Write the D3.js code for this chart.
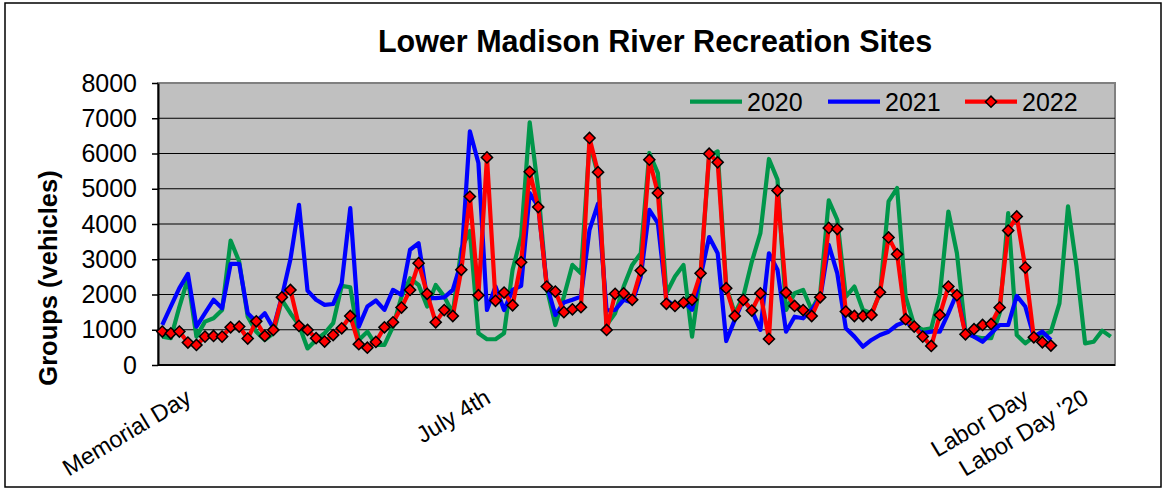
<!DOCTYPE html>
<html><head><meta charset="utf-8">
<script src="https://cdn.jsdelivr.net/npm/d3@7"></script>
<style>
body{margin:0;background:#fff}
text{font-family:"Liberation Sans", Arial, sans-serif;fill:#000}
</style>
</head><body>
<svg id="c" width="1168" height="490"></svg>
<script>
// ---- data ----
const title = "Lower Madison River Recreation Sites";
const yTitle = "Groups (vehicles)";
const nDays = 112;
const labelDays = [3, 38, 101, 108];
const labelTexts = ["Memorial Day", "July 4th", "Labor Day", "Labor Day '20"];
const yTicks = [0, 1000, 2000, 3000, 4000, 5000, 6000, 7000, 8000];
const seriesNames = ["2020", "2021", "2022"];
const seriesColors = ["#00964A", "#0000FF", "#FF0000"];

const v2020 = [805,760,1650,2450,805,1230,1325,1560,3530,2935,1370,945,710,900,1850,1470,1135,470,710,900,
1185,2245,2205,710,945,570,570,1090,1940,2460,2270,1660,2270,1940,1470,3300,3800,900,730,730,
900,2700,3645,6885,4970,2180,1135,1940,2840,2600,6300,5400,1135,1470,2225,2840,3170,6015,5445,2035,
2510,2840,805,2600,5920,6060,2225,1470,1940,2935,3740,5845,5260,1560,2035,2130,1560,2035,4670,4120,
1940,2225,1560,1470,2035,4640,5020,1940,1135,1000,1040,1990,4355,3170,945,805,760,760,1470,4310,
850,615,805,850,945,1750,4500,2790,615,660,975,805];

const v2021 = [1140,1660,2180,2585,1090,1470,1850,1610,2870,2870,1470,1230,1470,1040,1940,3000,4545,2110,1850,1705,
1730,2320,4450,1090,1660,1830,1565,2130,1990,3270,3455,1895,1895,1920,2130,2935,6630,5730,1560,2225,
1560,2130,2245,4875,4500,2270,1420,1770,1850,1940,3835,4575,1550,1560,1850,1770,2510,4400,4025,1850,
1660,1800,1565,2510,3630,3170,680,1280,1850,1545,995,3170,2700,945,1370,1325,1565,1895,3410,2600,
1040,805,520,710,850,945,1135,1230,1040,900,945,945,1470,2035,900,805,660,900,1135,1135,
1960,1660,805,945,710];

const v2022 = [950,900,950,635,570,805,825,805,1070,1090,750,1240,825,995,1920,2130,1110,995,760,665,
850,1040,1390,590,490,655,1070,1210,1630,2130,2890,2020,1210,1560,1390,2700,4780,1980,5890,1820,
2055,1695,2915,5480,4480,2225,2085,1500,1580,1640,6440,5470,995,2020,2035,1850,2680,5825,4880,1735,
1675,1770,1850,2600,5995,5750,2180,1390,1850,1545,2035,740,4950,2055,1675,1560,1390,1920,3890,3855,
1515,1390,1390,1420,2065,3620,3145,1300,1090,805,540,1420,2225,1980,870,1015,1135,1165,1630,3815,
4215,2765,785,645,550];

const seriesValues = [v2020, v2021, v2022];

// ---- chart ----
const svg = d3.select("#c");
const plot = {left: 158, right: 1115, top: 83, bottom: 365};

// outer border
svg.append("rect").attr("x", 5).attr("y", 3).attr("width", 1156).attr("height", 484)
  .attr("fill", "#fff").attr("stroke", "#000").attr("stroke-width", 1.5);

const x = d3.scaleBand().domain(d3.range(nDays)).range([plot.left, plot.right]);
const xc = i => x(i) + x.bandwidth() / 2;
const y = d3.scaleLinear().domain([0, 8000]).range([plot.bottom, plot.top]);

// plot area
svg.append("rect").attr("x", plot.left).attr("y", plot.top)
  .attr("width", plot.right - plot.left).attr("height", plot.bottom - plot.top)
  .attr("fill", "#C0C0C0").attr("stroke", "#808080").attr("stroke-width", 2);

// gridlines
svg.append("g").selectAll("line").data(yTicks.filter(t => t > 0 && t < 8000)).join("line")
  .attr("x1", plot.left).attr("x2", plot.right)
  .attr("y1", d => y(d)).attr("y2", d => y(d))
  .attr("stroke", "#000").attr("stroke-width", 1.2);

// y axis
const yAxis = svg.append("g").attr("transform", `translate(${plot.left},0)`)
  .call(d3.axisLeft(y).tickValues(yTicks).tickSize(6).tickSizeOuter(0).tickPadding(15).tickFormat(d3.format("d")));
yAxis.select(".domain").attr("stroke", "#000").attr("stroke-width", 2);
yAxis.selectAll(".tick line").attr("stroke", "#000").attr("stroke-width", 1.5);
yAxis.selectAll(".tick text").attr("font-size", 25).attr("font-family", '"Liberation Sans", Arial, sans-serif').attr("fill", "#000");

// x axis line
svg.append("line").attr("x1", plot.left).attr("x2", plot.right)
  .attr("y1", plot.bottom).attr("y2", plot.bottom).attr("stroke", "#000").attr("stroke-width", 2);

// x labels
svg.append("g").selectAll("text").data(labelDays).join("text")
  .attr("transform", (d) => `translate(${xc(d) + 5},${402}) rotate(-31)`)
  .attr("text-anchor", "end").attr("font-size", 23.5)
  .text((d, i) => labelTexts[i]);

// series lines
const line = d3.line().x((d, i) => xc(i)).y(d => y(d));
seriesValues.forEach((vals, s) => {
  svg.append("path").datum(vals).attr("d", line)
    .attr("fill", "none").attr("stroke", seriesColors[s]).attr("stroke-width", 4.2)
    .attr("stroke-linejoin", "round");
});
// 2022 markers
const diamond = d3.symbol().type(d3.symbolSquare).size(62);
svg.append("g").selectAll("path").data(v2022).join("path")
  .attr("d", diamond)
  .attr("transform", (d, i) => `translate(${xc(i)},${y(d)}) rotate(45)`)
  .attr("fill", "#FF0000").attr("stroke", "#000").attr("stroke-width", 1.5);

// title
svg.append("text").attr("x", 655).attr("y", 52).attr("text-anchor", "middle")
  .attr("font-size", 30.5).attr("font-weight", "bold").text(title);

// y title
svg.append("text").attr("transform", `translate(57,278) rotate(-90)`)
  .attr("text-anchor", "middle").attr("font-size", 25.5).attr("font-weight", "bold").text(yTitle);

// legend
const legX = [690, 828, 965];
const legY = 101.7;
seriesNames.forEach((n, s) => {
  const g = svg.append("g");
  g.append("line").attr("x1", legX[s]).attr("x2", legX[s] + 52).attr("y1", legY).attr("y2", legY)
    .attr("stroke", seriesColors[s]).attr("stroke-width", 4.2);
  if (s === 2) {
    g.append("path").attr("d", diamond)
      .attr("transform", `translate(${legX[s] + 26},${legY}) rotate(45)`)
      .attr("fill", "#FF0000").attr("stroke", "#000").attr("stroke-width", 1.5);
  }
  g.append("text").attr("x", legX[s] + 57).attr("y", legY + 9).attr("font-size", 25).text(n);
});
</script>
</body></html>
